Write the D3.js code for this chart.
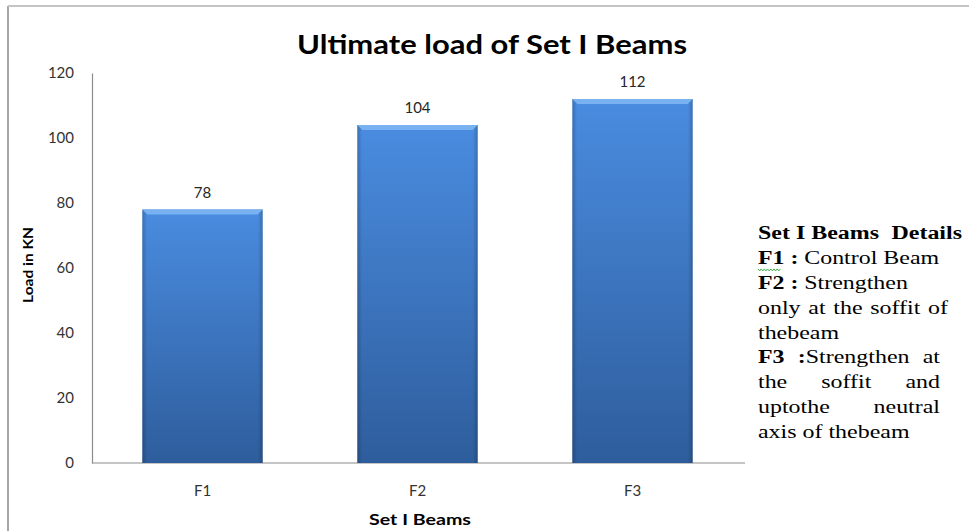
<!DOCTYPE html>
<html>
<head>
<meta charset="utf-8">
<script src="https://cdn.jsdelivr.net/npm/d3@7"></script>
<style>
  body { margin: 0; background: #fff; }
  svg { display: block; }
</style>
</head>
<body>
<svg id="chart" width="969" height="531"></svg>
<script>
// chart values
var categories = ["F1", "F2", "F3"];
var loads = [78, 104, 112];
var yTicks = [0, 20, 40, 60, 80, 100, 120];

// side note: words per line, each word a list of [text, bold] pieces,
// and right edge when justified (0 = ragged)
var noteWords = [
  [[["Set I Beams", 1]], [["Details", 1]]],
  [[["F1 :", 1]], [["Control Beam", 0]]],
  [[["F2 :", 1]], [["Strengthen", 0]]],
  [[["only", 0]], [["at", 0]], [["the", 0]], [["soffit", 0]], [["of", 0]]],
  [[["thebeam", 0]]],
  [[["F3", 1]], [[":", 1], ["Strengthen", 0]], [["at", 0]]],
  [[["the", 0]], [["soffit", 0]], [["and", 0]]],
  [[["uptothe", 0]], [["neutral", 0]]],
  [[["axis of thebeam", 0]]]
];
var noteJustify = [962, 0, 0, 948, 0, 940, 940, 940, 0];

var svg = d3.select("#chart");
var plotL = 92, plotR = 740, plotT = 73, plotB = 463;
var sans = "Lato, 'Open Sans', sans-serif";

// frame
svg.append("line").attr("x1", 8).attr("x2", 8).attr("y1", 6).attr("y2", 531)
  .attr("stroke", "#a6a6a6").attr("stroke-width", 2);
svg.append("line").attr("x1", 8).attr("x2", 969).attr("y1", 6).attr("y2", 6)
  .attr("stroke", "#c4c4c4").attr("stroke-width", 2);

var x = d3.scaleBand().domain(categories).range([plotL + 3, plotR]).paddingInner(0.44).paddingOuter(0.22);
var y = d3.scaleLinear().domain([0, 120]).range([plotB, plotT]);

// bar gradients
var defs = svg.append("defs");
var g = defs.append("linearGradient").attr("id", "barFill").attr("x1", 0).attr("y1", 0).attr("x2", 0).attr("y2", 1);
g.append("stop").attr("offset", "0%").attr("stop-color", "#4a8ce0");
g.append("stop").attr("offset", "100%").attr("stop-color", "#2e5d9c");
var side = defs.append("linearGradient").attr("id", "sideShade").attr("x1", 0).attr("y1", 0).attr("x2", 1).attr("y2", 0);
side.append("stop").attr("offset", "0%").attr("stop-color", "#000").attr("stop-opacity", 0.2);
side.append("stop").attr("offset", "4%").attr("stop-color", "#000").attr("stop-opacity", 0);
side.append("stop").attr("offset", "96%").attr("stop-color", "#000").attr("stop-opacity", 0);
side.append("stop").attr("offset", "100%").attr("stop-color", "#000").attr("stop-opacity", 0.2);

// title
svg.append("text").attr("x", 492).attr("y", 54).attr("text-anchor", "middle")
  .attr("textLength", 390).attr("lengthAdjust", "spacingAndGlyphs")
  .style("font-family", sans).style("font-weight", "bold")
  .style("font-size", "27px").attr("fill", "#000").text("Ultimate load of Set I Beams");

// y axis
var yAxis = svg.append("g").attr("transform", "translate(" + plotL + ",0)")
  .call(d3.axisLeft(y).tickValues(yTicks).tickSize(0).tickPadding(18));
yAxis.select(".domain").attr("stroke", "#8c8c8c").attr("stroke-width", 1.2);
yAxis.selectAll("text").style("font-family", sans)
  .style("font-size", "15px").attr("fill", "#333");

// x axis
var xAxis = svg.append("g").attr("transform", "translate(0," + plotB + ")")
  .call(d3.axisBottom(x).tickSize(0).tickPadding(22));
xAxis.select(".domain").attr("d", "M" + plotL + ",0H745").attr("stroke", "#8c8c8c").attr("stroke-width", 1.2);
xAxis.selectAll("text").style("font-family", sans)
  .style("font-size", "15px").attr("fill", "#333");

// bars
var bars = svg.append("g").selectAll("g.bar").data(loads).enter().append("g").attr("class", "bar");
bars.append("rect")
  .attr("x", function(d, i) { return x(categories[i]); })
  .attr("y", function(d) { return y(d); })
  .attr("width", x.bandwidth())
  .attr("height", function(d) { return plotB - y(d); })
  .attr("fill", "url(#barFill)");
bars.append("rect")
  .attr("x", function(d, i) { return x(categories[i]); })
  .attr("y", function(d) { return y(d); })
  .attr("width", x.bandwidth())
  .attr("height", function(d) { return plotB - y(d); })
  .attr("fill", "url(#sideShade)");
// top bevel
bars.append("path")
  .attr("d", function(d, i) {
    var x0 = x(categories[i]), x1 = x0 + x.bandwidth(), yy = y(d);
    return "M" + x0 + "," + yy + "H" + x1 + "L" + (x1 - 5) + "," + (yy + 5) + "H" + (x0 + 5) + "Z";
  })
  .attr("fill", "#78b2f0");
bars.append("text")
  .attr("x", function(d, i) { return x(categories[i]) + x.bandwidth() / 2; })
  .attr("y", function(d) { return y(d) - 12; })
  .attr("text-anchor", "middle")
  .style("font-family", sans).style("font-size", "15px")
  .attr("fill", "#262626")
  .text(function(d) { return d; });

// axis titles
svg.append("text").attr("x", 420).attr("y", 525).attr("text-anchor", "middle")
  .attr("textLength", 102).attr("lengthAdjust", "spacingAndGlyphs")
  .style("font-family", sans).style("font-weight", "bold")
  .style("font-size", "16px").attr("fill", "#000").text("Set I Beams");
svg.append("text").attr("transform", "translate(33,265) rotate(-90)").attr("text-anchor", "middle")
  .attr("textLength", 76).attr("lengthAdjust", "spacingAndGlyphs")
  .style("font-family", sans).style("font-weight", "bold")
  .style("font-size", "14px").attr("fill", "#000").text("Load in KN");

// side note, stretched sideways like the source text box
var noteX = 758, stretch = 1.26, lineH = 24.9, noteY = 239;
var note = svg.append("g").attr("transform", "translate(" + noteX + ",0) scale(" + stretch + ",1)")
  .style("font-family", "'Liberation Serif', 'DejaVu Serif', serif")
  .style("font-size", "19px").attr("fill", "#000");
noteWords.forEach(function(words, li) {
  var yy = noteY + li * lineH;
  var nodes = words.map(function(w) {
    var t = note.append("text").attr("y", yy);
    w.forEach(function(p) {
      t.append("tspan").style("font-weight", p[1] ? "bold" : "normal").text(p[0]);
    });
    return t;
  });
  var widths = nodes.map(function(n) { return n.node().getComputedTextLength(); });
  var gap = 4.5;
  if (noteJustify[li] && words.length > 1) {
    gap = ((noteJustify[li] - noteX) / stretch - d3.sum(widths)) / (words.length - 1);
  }
  var cx = 0;
  nodes.forEach(function(n, i) { n.attr("x", cx); cx += widths[i] + gap; });
});
// spell-check squiggle under "F1 :"
var wavy = "M758," + (noteY + lineH + 5);
for (var k = 0; k < 14; k++) {
  wavy += "l1.6," + (k % 2 ? -2 : 2);
}
svg.append("path").attr("d", wavy).attr("fill", "none").attr("stroke", "#3cb043").attr("stroke-width", 1);
</script>
</body>
</html>
